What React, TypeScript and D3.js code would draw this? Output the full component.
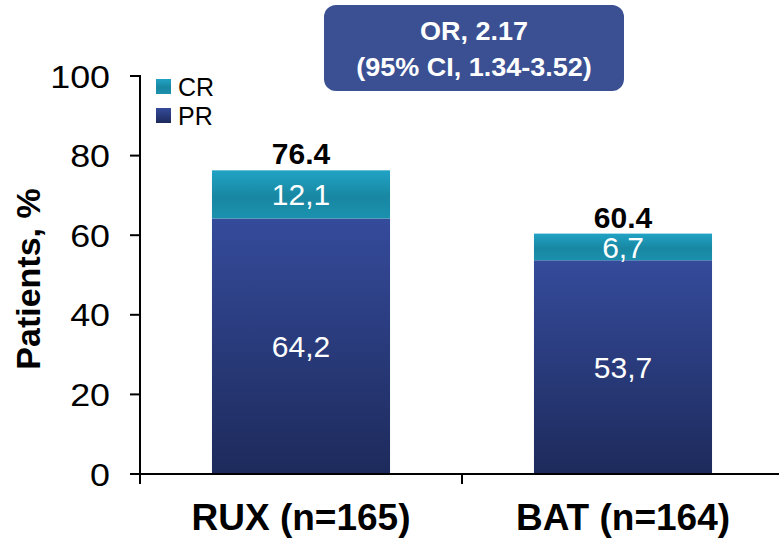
import React from "react";
import * as d3 from "d3";

// data
const groups: string[] = ["RUX (n=165)", "BAT (n=164)"];
const prValues: number[] = [64.2, 53.7];
const crValues: number[] = [12.1, 6.7];
const totals: number[] = [76.4, 60.4];
const yTicks: number[] = [0, 20, 40, 60, 80, 100];
const legendItems: string[] = ["CR", "PR"];
const orLines: string[] = ["OR, 2.17", "(95% CI, 1.34-3.52)"];

const W = 779;
const H = 539;
const margin = { top: 76, right: -5, bottom: 65, left: 140 };
const FONT = "'Liberation Sans', Arial, sans-serif";

const fmtComma = (v: number) => v.toFixed(1).replace(".", ",");

export default function App() {
    const x = d3.scaleBand<string>()
        .domain(groups)
        .range([margin.left, W - margin.right])
        .paddingInner(0.447)
        .paddingOuter(0.2235);
    const y = d3.scaleLinear()
        .domain([0, 100])
        .range([H - margin.bottom, margin.top]);

    const y0 = y(0);
    const bw = x.bandwidth();
    const step = x.step();

    return (
        <svg width={W} height={H} style={{ position: "absolute", left: 0, top: 0, background: "#fff" }}
             fontFamily={FONT}>
            <defs>
                <linearGradient id="gPR" x1="0" y1="1" x2="0" y2="0">
                    <stop offset="0%" stopColor="#1d2a5b" />
                    <stop offset="100%" stopColor="#354b9b" />
                </linearGradient>
                <linearGradient id="gCR" x1="0" y1="0" x2="0" y2="1">
                    <stop offset="0%" stopColor="#21a3c5" />
                    <stop offset="55%" stopColor="#1887a2" />
                    <stop offset="100%" stopColor="#1b91ae" />
                </linearGradient>
            </defs>

            {/* bars */}
            {groups.map((g, i) => {
                const bx = x(g)!;
                const prTop = y(prValues[i]);
                const crTop = y(prValues[i] + crValues[i]);
                return (
                    <g key={g}>
                        <rect x={bx} y={prTop} width={bw} height={y0 - prTop} fill="url(#gPR)" />
                        <rect x={bx} y={crTop} width={bw} height={prTop - crTop} fill="url(#gCR)" />
                        <text x={bx + bw / 2} y={(prTop + y0) / 2} dy="0.36em" textAnchor="middle"
                              fill="#fff" fontSize={30}>{fmtComma(prValues[i])}</text>
                        <text x={bx + bw / 2} y={(crTop + prTop) / 2} dy="0.36em" textAnchor="middle"
                              fill="#fff" fontSize={30}>{fmtComma(crValues[i])}</text>
                        <text x={bx + bw / 2} y={crTop - 6} textAnchor="middle"
                              fill="#000" fontSize={30} fontWeight="bold">{totals[i].toFixed(1)}</text>
                        <text x={bx + bw / 2} y={H - 9} textAnchor="middle"
                              fill="#000" fontSize={37} fontWeight="bold">{g}</text>
                    </g>
                );
            })}

            {/* y axis */}
            <line x1={margin.left} x2={margin.left} y1={y(100) - 1} y2={y0} stroke="#000" strokeWidth={2} />
            {yTicks.map(t => (
                <g key={t}>
                    <line x1={margin.left - 10} x2={margin.left} y1={y(t)} y2={y(t)} stroke="#000" strokeWidth={2} />
                    <g transform={`translate(${margin.left - 30},${y(t)}) scale(1.12,1)`}>
                        <text textAnchor="end" dy="0.36em" fontSize={32} fill="#000">{t}</text>
                    </g>
                </g>
            ))}

            {/* x axis */}
            <line x1={margin.left - 10} x2={W} y1={y0} y2={y0} stroke="#000" strokeWidth={2} />
            {d3.range(groups.length + 1).map(k => (
                <line key={k} x1={margin.left + k * step} x2={margin.left + k * step}
                      y1={y0} y2={y0 + 10} stroke="#000" strokeWidth={2} />
            ))}

            {/* y label */}
            <text transform={`translate(40,${(y(100) + y0) / 2 + 4}) rotate(-90)`} textAnchor="middle"
                  fontSize={34} fontWeight="bold" fill="#000">Patients, %</text>

            {/* legend */}
            {legendItems.map((name, i) => (
                <g key={name} transform={`translate(156,${79 + i * 29})`}>
                    <rect width={15} height={15} fill={name === "CR" ? "url(#gCR)" : "url(#gPR)"} />
                    <text x={22} y={17} fontSize={25} fill="#000">{name}</text>
                </g>
            ))}

            {/* OR box */}
            <rect x={324} y={5} width={300} height={86} rx={12} fill="#3a5092" />
            {orLines.map((line, i) => (
                <g key={line} transform={`translate(474,${40 + i * 36}) scale(1.08,1)`}>
                    <text textAnchor="middle" fontSize={25} fontWeight="bold" fill="#fff">{line}</text>
                </g>
            ))}
        </svg>
    );
}
